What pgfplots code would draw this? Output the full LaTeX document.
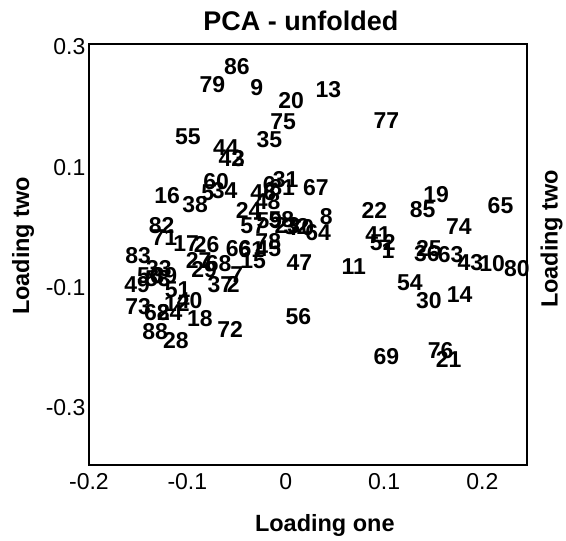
\documentclass[border=0pt]{standalone}
\usepackage{pgfplots}
\pgfplotsset{compat=1.18}
\usepackage{fontspec}
\setmainfont{Liberation Sans}
\begin{document}
\begin{tikzpicture}
\path (0pt,0pt) rectangle (566pt,540pt);
\begin{axis}[
  at={(89pt,75pt)}, anchor=south west,
  scale only axis, width=438pt, height=421pt,
  xmin=-0.2, xmax=0.245, ymin=-0.4, ymax=0.3,
  xtick={-0.2,-0.1,0,0.1,0.2},
  xticklabels={-0.2,-0.1,0,0.1,0.2},
  ytick={-0.3,-0.1,0.1,0.3},
  yticklabels={-0.3,-0.1,0.1,0.3},
  xtick style={draw=none}, ytick style={draw=none},
  axis line style={line width=1.7pt},
  tick label style={font=\fontsize{23}{23}\selectfont},
  xticklabel style={yshift=-5pt},
  yticklabel style={xshift=0pt, yshift=-3pt},
  clip=false,
]
\addplot[only marks, mark=none, nodes near coords, point meta=explicit symbolic,
  every node near coord/.append style={anchor=center, inner sep=0pt,
    font=\bfseries\fontsize{23}{23}\selectfont}]
  table[x=x, y=y, meta=label] {
label x y
86 -0.0497 0.2626
79 -0.0744 0.2320
9 -0.0295 0.2280
13 0.0435 0.2240
20 0.0055 0.2050
75 -0.0026 0.1704
77 0.1024 0.1733
55 -0.0994 0.1456
35 -0.0166 0.1416
44 -0.0608 0.1272
42 -0.0552 0.1088
3 -0.0479 0.1088
60 -0.0707 0.0713
5 -0.0792 0.0530
34 -0.0620 0.0565
16 -0.1204 0.0477
38 -0.0921 0.0321
6 -0.0166 0.0667
31 0.0000 0.0742
81 -0.0037 0.0610
67 0.0306 0.0610
46 -0.0228 0.0523
48 -0.0184 0.0379
24 -0.0376 0.0235
8 0.0413 0.0120
22 0.0902 0.0224
19 0.1529 0.0494
85 0.1392 0.0252
65 0.2184 0.0310
74 0.1761 -0.0036
82 -0.1260 -0.0024
71 -0.1234 -0.0226
17 -0.1013 -0.0324
26 -0.0803 -0.0341
57 -0.0331 -0.0024
59 -0.0166 0.0062
58 -0.0044 0.0074
23 0.0018 -0.0024
32 0.0110 -0.0045
70 0.0160 -0.0053
64 0.0331 -0.0139
78 -0.0177 -0.0283
45 -0.0177 -0.0410
66 -0.0479 -0.0410
61 -0.0350 -0.0427
15 -0.0331 -0.0600
47 0.0140 -0.0629
11 0.0692 -0.0698
41 0.0939 -0.0168
52 0.0987 -0.0312
1 0.1039 -0.0439
25 0.1455 -0.0399
36 0.1436 -0.0485
63 0.1676 -0.0502
43 0.1878 -0.0629
10 0.2099 -0.0658
80 0.2350 -0.0744
54 0.1263 -0.0975
30 0.1455 -0.1263
14 0.1768 -0.1165
56 0.0129 -0.1533
69 0.1024 -0.2196
76 0.1576 -0.2098
21 0.1657 -0.2242
83 -0.1499 -0.0514
27 -0.0884 -0.0600
68 -0.0681 -0.0658
29 -0.0829 -0.0756
7 -0.0497 -0.0831
37 -0.0663 -0.1003
2 -0.0534 -0.1003
33 -0.1289 -0.0733
50 -0.1381 -0.0860
53 -0.1300 -0.0900
39 -0.1234 -0.0860
49 -0.1510 -0.1003
51 -0.1098 -0.1090
40 -0.0976 -0.1263
12 -0.1105 -0.1320
73 -0.1499 -0.1366
62 -0.1308 -0.1464
84 -0.1179 -0.1464
18 -0.0873 -0.1562
72 -0.0564 -0.1752
88 -0.1326 -0.1781
28 -0.1116 -0.1942
};
\end{axis}
\node[font=\bfseries\fontsize{27}{27}\selectfont] at (301pt,519pt) {PCA - unfolded};
\node[font=\bfseries\fontsize{23.5}{23.5}\selectfont] at (325pt,14pt) {Loading one};
\node[font=\bfseries\fontsize{23.5}{23.5}\selectfont, rotate=90] at (23pt,294pt) {Loading two};
\node[font=\bfseries\fontsize{23.5}{23.5}\selectfont, rotate=90] at (552pt,301pt) {Loading two};
\end{tikzpicture}
\end{document}
